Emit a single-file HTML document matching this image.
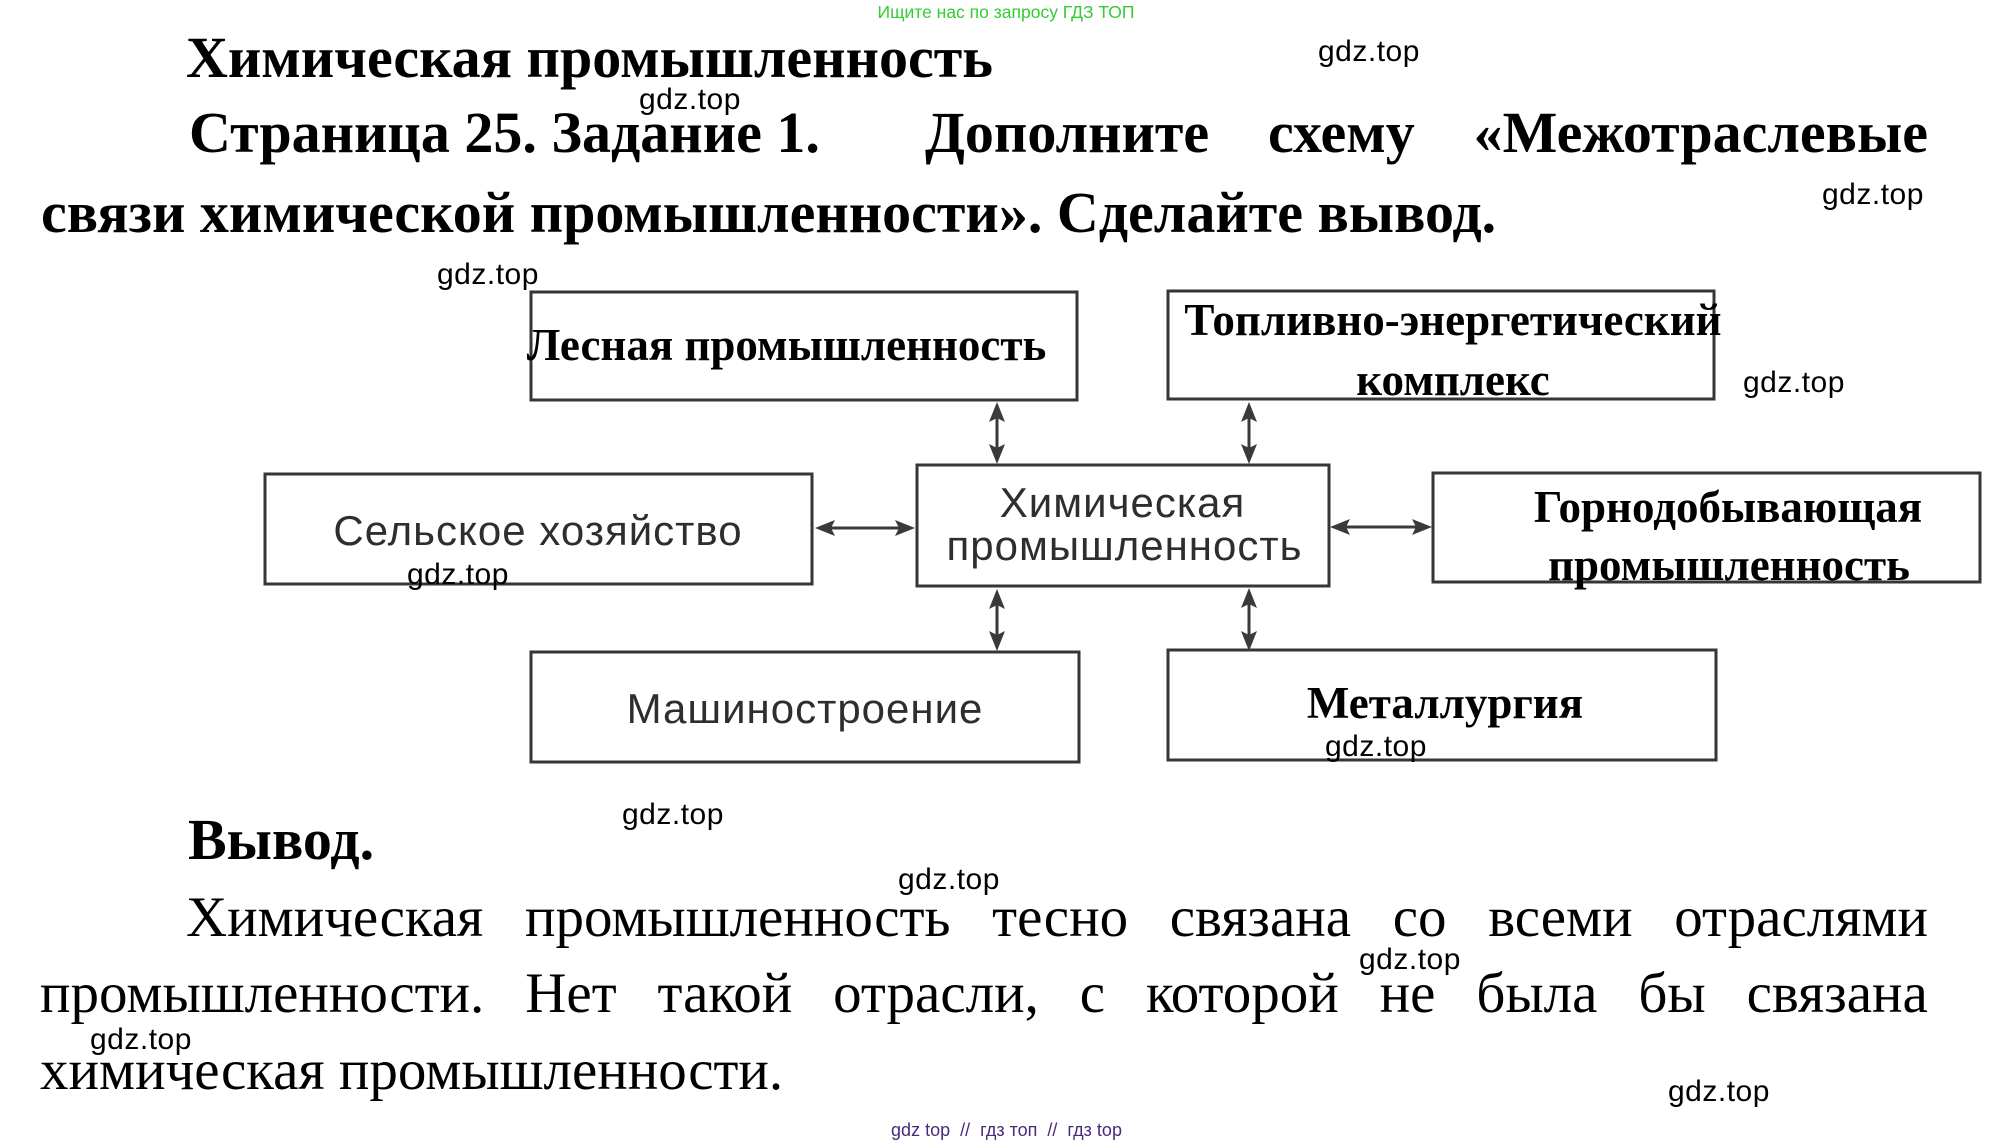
<!DOCTYPE html>
<html><head><meta charset="utf-8">
<style>
html,body{margin:0;padding:0;background:#fff;}
body{width:2014px;height:1144px;position:relative;overflow:hidden;}
.t{position:absolute;line-height:0;white-space:nowrap;}
.ser{font-family:"Liberation Serif","Noto Serif CJK SC",serif;color:#000;}
.b{font-weight:bold;}
.sans{font-family:"Liberation Sans","Noto Sans CJK SC",sans-serif;}
.wm{font-family:"Liberation Sans",sans-serif;font-size:30px;letter-spacing:0.5px;color:#000;}
.fl{display:flex;justify-content:space-between;align-items:flex-start;}
.c{text-align:center;width:1000px;}
.lbl{font-family:"Liberation Sans","Noto Sans CJK SC",sans-serif;font-size:42px;letter-spacing:1px;color:#2e2e2e;}
.bl{font-family:"Liberation Serif","Noto Serif CJK SC",serif;font-weight:bold;font-size:45px;color:#000;}
svg{position:absolute;left:0;top:0;}
</style></head><body>
<svg width="2014" height="1144" viewBox="0 0 2014 1144">
<g fill="none" stroke="#363636" stroke-width="3">
<rect x="531" y="292" width="546" height="108"/>
<rect x="1168" y="291" width="546" height="108"/>
<rect x="265" y="474" width="547" height="110"/>
<rect x="917" y="465" width="412" height="121"/>
<rect x="1433" y="473" width="547" height="109"/>
<rect x="531" y="652" width="548" height="110"/>
<rect x="1168" y="650" width="548" height="110"/>
</g>
<g stroke="#3a3a3a" stroke-width="3" fill="none">
<line x1="997" y1="412" x2="997" y2="454"/>
<line x1="1249" y1="412" x2="1249" y2="454"/>
<line x1="997" y1="599" x2="997" y2="641"/>
<line x1="1249" y1="598" x2="1249" y2="641"/>
<line x1="825" y1="528" x2="905" y2="528"/>
<line x1="1340" y1="527" x2="1422" y2="527"/>
</g>
<g fill="#3a3a3a">
<polygon points="997,402 989,422 997,418 1005,422"/>
<polygon points="997,464 989,444 997,448 1005,444"/>
<polygon points="1249,402 1241,422 1249,418 1257,422"/>
<polygon points="1249,464 1241,444 1249,448 1257,444"/>
<polygon points="997,589 989,609 997,605 1005,609"/>
<polygon points="997,651 989,631 997,635 1005,631"/>
<polygon points="1249,588 1241,608 1249,604 1257,608"/>
<polygon points="1249,651 1241,631 1249,635 1257,631"/>
<polygon points="815,528 835,520 831,528 835,536"/>
<polygon points="915,528 895,520 899,528 895,536"/>
<polygon points="1330,527 1350,519 1346,527 1350,535"/>
<polygon points="1432,527 1412,519 1416,527 1412,535"/>
</g>
</svg>

<!-- green top -->
<div class="t sans" style="left:856px;top:12px;font-size:17.5px;color:#33cc33;width:300px;text-align:center;">Ищите нас по запросу ГДЗ ТОП</div>

<!-- headings -->
<div class="t ser b" style="left:186px;top:58.4px;font-size:58px;">Химическая промышленность</div>
<div class="t ser b" style="left:189px;top:133.4px;font-size:58px;">Страница 25. Задание 1.</div>
<div class="t ser b fl" style="left:925px;top:133.4px;width:1003px;font-size:58px;"><span>Дополните</span><span>схему</span><span>«Межотраслевые</span></div>
<div class="t ser b" style="left:41px;top:213px;font-size:58px;">связи химической промышленности». Сделайте вывод.</div>

<!-- box labels -->
<div class="t bl c" style="left:286.5px;top:344.8px;">Лесная промышленность</div>
<div class="t bl c" style="left:953px;top:319.8px;">Топливно-энергетический</div>
<div class="t bl c" style="left:953px;top:379.8px;">комплекс</div>
<div class="t bl c" style="left:1228px;top:506.5px;">Горнодобывающая</div>
<div class="t bl c" style="left:1229px;top:564.8px;">промышленность</div>
<div class="t bl c" style="left:945px;top:702.8px;">Металлургия</div>

<div class="t lbl c" style="left:38px;top:530.5px;">Сельское хозяйство</div>
<div class="t lbl c" style="left:622.5px;top:502.5px;">Химическая</div>
<div class="t lbl c" style="left:624.5px;top:545.5px;">промышленность</div>
<div class="t lbl c" style="left:305px;top:708.5px;">Машиностроение</div>

<!-- conclusion -->
<div class="t ser b" style="left:188px;top:840.4px;font-size:58px;">Вывод.</div>
<div class="t ser fl" style="left:186px;top:917.8px;width:1742px;font-size:57px;"><span>Химическая</span><span>промышленность</span><span>тесно</span><span>связана</span><span>со</span><span>всеми</span><span>отраслями</span></div>
<div class="t ser fl" style="left:40px;top:993.8px;width:1888px;font-size:57px;"><span>промышленности.</span><span>Нет</span><span>такой</span><span>отрасли,</span><span>с</span><span>которой</span><span>не</span><span>была</span><span>бы</span><span>связана</span></div>
<div class="t ser" style="left:40px;top:1070.8px;font-size:57px;">химическая промышленности.</div>

<!-- watermarks -->
<div class="t wm" style="left:639px;top:100.3px;">gdz.top</div>
<div class="t wm" style="left:1318px;top:52.3px;">gdz.top</div>
<div class="t wm" style="left:1822px;top:195.3px;">gdz.top</div>
<div class="t wm" style="left:437px;top:275.3px;">gdz.top</div>
<div class="t wm" style="left:1743px;top:383.3px;">gdz.top</div>
<div class="t wm" style="left:407px;top:575.3px;">gdz.top</div>
<div class="t wm" style="left:1325px;top:747.3px;">gdz.top</div>
<div class="t wm" style="left:622px;top:815.3px;">gdz.top</div>
<div class="t wm" style="left:898px;top:880.3px;">gdz.top</div>
<div class="t wm" style="left:1359px;top:960.3px;">gdz.top</div>
<div class="t wm" style="left:90px;top:1040.3px;">gdz.top</div>
<div class="t wm" style="left:1668px;top:1092.3px;">gdz.top</div>

<!-- footer -->
<div class="t sans" style="left:856.5px;top:1129.5px;width:300px;text-align:center;font-size:18px;color:#4a2a7a;white-space:pre;">gdz top  //  гдз топ  //  гдз top</div>
</body></html>
